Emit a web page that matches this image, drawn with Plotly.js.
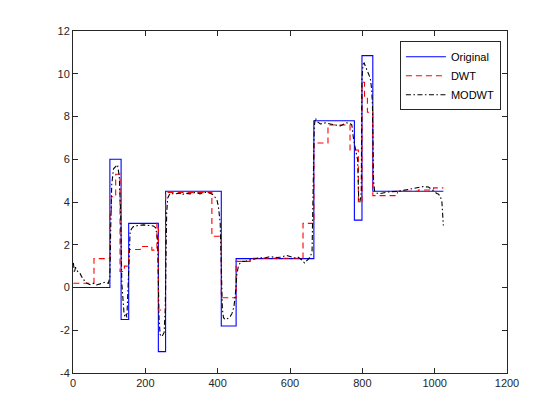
<!DOCTYPE html>
<html>
<head>
<meta charset="utf-8">
<script src="https://cdn.plot.ly/plotly-3.0.1.min.js"></script>
<style>html,body{margin:0;padding:0;background:#fff;}#chart{width:560px;height:420px;}</style>
</head>
<body>
<div id="chart"></div>
<script>
// Original blocks signal (step corners, drawn with 'hv' steps)
var origX = [1, 102, 133, 154, 236, 256, 410, 451, 666, 778, 799, 829, 1024];
var origY = [0, 6, -1.5, 3, -3, 4.5, -1.8, 1.35, 7.8, 3.15, 10.85, 4.5, 4.5];

// DWT denoised (piecewise constant, 'hv' steps)
var dwtX = [1, 58, 102, 106, 118, 130, 142, 154, 186, 218, 232, 236, 256, 384, 410, 451, 490, 636, 666, 705, 766, 789, 799, 806, 814, 829, 897, 955, 997, 1024];
var dwtY = [0.2, 1.35, 3.4, 4.25, 5.3, 0.75, 1.0, 1.78, 1.92, 1.75, 3.0, -1.05, 4.45, 2.4, -0.48, 1.22, 1.37, 3.0, 6.76, 7.6, 6.43, 4.0, 9.6, 8.85, 8.2, 4.3, 4.5, 4.56, 4.66, 4.66];

// MODWT denoised
var modX = [1, 4, 7, 10, 15, 19, 24, 28, 33, 38, 47, 56, 65, 75, 88, 98, 102, 104, 107, 112, 118, 123, 128, 132, 135, 139, 141, 144, 147, 149, 152, 155, 158, 162, 167, 180, 195, 210, 222, 228, 232, 234, 236, 238, 241, 245, 249, 252, 255, 257, 259, 262, 266, 268, 282, 296, 301, 310, 324, 338, 351, 365, 379, 388, 398, 402, 407, 410, 413, 416, 420, 428, 435, 440, 445, 449, 453, 457, 462, 468, 476, 490, 500, 515, 530, 545, 560, 575, 590, 600, 612, 622, 632, 640, 648, 656, 661, 664, 667, 670, 676, 684, 697, 711, 725, 739, 750, 757, 766, 771, 776, 782, 787, 790, 793, 796, 797, 799, 802, 805, 812, 822, 826, 828, 831, 834, 841, 850, 865, 877, 900, 924, 945, 960, 968, 983, 997, 1006, 1010, 1016, 1020, 1022, 1024];
var modY = [1.15, 0.7, 0.95, 0.8, 0.72, 0.68, 0.5, 0.44, 0.25, 0.2, 0.13, 0.2, 0.12, 0.17, 0.25, 0.2, 0.5, 2.5, 4.8, 5.55, 5.68, 5.74, 5.2, 3.3, 0.2, -1.04, -1.2, -1.38, -1.25, -1.4, 0.0, 2.0, 2.62, 2.75, 2.85, 2.9, 2.93, 2.9, 2.88, 2.8, 2.5, 2.1, 0.5, -1.5, -2.2, -2.3, -2.2, -2.1, -1.0, 1.5, 3.5, 4.19, 4.3, 4.4, 4.38, 4.41, 4.33, 4.41, 4.38, 4.45, 4.38, 4.45, 4.41, 4.33, 4.1, 3.79, 3.01, 1.0, -1.0, -1.4, -1.5, -1.45, -1.35, -1.2, -0.9, -0.3, 0.6, 0.98, 1.15, 1.22, 1.22, 1.3, 1.32, 1.4, 1.38, 1.45, 1.4, 1.42, 1.5, 1.45, 1.38, 1.42, 1.3, 1.15, 1.3, 1.42, 1.7, 4.5, 7.5, 7.93, 7.75, 7.65, 7.7, 7.65, 7.62, 7.56, 7.65, 7.7, 7.68, 7.6, 6.9, 6.4, 5.97, 4.1, 3.98, 4.3, 4.5, 9.8, 10.45, 10.5, 10.18, 9.79, 9.24, 8.5, 5.0, 4.5, 4.41, 4.4, 4.45, 4.48, 4.5, 4.57, 4.62, 4.69, 4.72, 4.7, 4.49, 4.4, 4.38, 4.25, 4.0, 3.5, 2.9];

var xTicks = [0, 200, 400, 600, 800, 1000, 1200];
var yTicks = [-4, -2, 0, 2, 4, 6, 8, 10, 12];
var seriesNames = ['Original', 'DWT', 'MODWT'];

var fontFam = 'Liberation Sans, Arial, Helvetica, sans-serif';
var axisColor = '#262626';

var traces = [
  {x: origX, y: origY, name: seriesNames[0], type: 'scatter', mode: 'lines',
   line: {color: '#0000ff', width: 1.1, shape: 'hv'}},
  {x: dwtX, y: dwtY, name: seriesNames[1], type: 'scatter', mode: 'lines',
   line: {color: '#ff0000', width: 1.1, shape: 'hv', dash: '6px,4px'}},
  {x: modX, y: modY, name: seriesNames[2], type: 'scatter', mode: 'lines',
   line: {color: '#000000', width: 1.1, dash: '5px,2.5px,1.5px,2.5px'}}
];

function axis(ticks, range) {
  return {
    range: range, tickmode: 'array', tickvals: ticks, ticktext: ticks.map(String),
    ticks: 'inside', ticklen: 5, tickwidth: 1, tickcolor: axisColor,
    showline: true, linecolor: axisColor, linewidth: 1, mirror: 'ticks',
    showgrid: false, zeroline: false,
    tickfont: {family: fontFam, size: 11, color: axisColor}
  };
}

var layout = {
  width: 560, height: 420,
  margin: {l: 73, r: 53, t: 31, b: 47, pad: 0},
  paper_bgcolor: '#ffffff', plot_bgcolor: '#ffffff',
  xaxis: axis(xTicks, [0, 1200]),
  yaxis: axis(yTicks, [-4, 12]),
  showlegend: true,
  legend: {x: 0.986, xanchor: 'right', y: 0.97, yanchor: 'top', itemwidth: 40,
    bgcolor: '#ffffff', bordercolor: axisColor, borderwidth: 1,
    font: {family: fontFam, size: 11, color: '#000000'}, tracegroupgap: 0},
  font: {family: fontFam}
};

Plotly.newPlot('chart', traces, layout, {staticPlot: true, displayModeBar: false});
</script>
</body>
</html>
